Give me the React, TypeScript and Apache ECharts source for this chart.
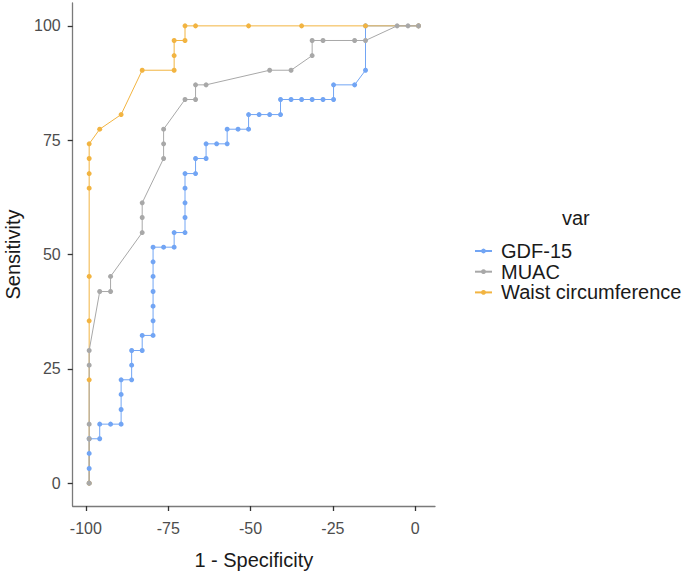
import React, { useEffect, useRef } from "react";
import * as echarts from "echarts";

const xTicks = [-100, -75, -50, -25, 0];
const yTicks = [0, 25, 50, 75, 100];

const gdfX = [-99, -99, -99, -99, -95.8, -95.8, -92.5, -89.3, -89.3, -89.3, -89.3, -86.1, -86.1, -86.1, -82.9, -82.9, -79.6, -79.6, -79.6, -79.6, -79.6, -79.6, -79.6, -76.4, -73.2, -73.2, -69.9, -69.9, -69.9, -69.9, -69.9, -66.7, -66.7, -63.5, -63.5, -60.3, -57.1, -57.1, -53.8, -50.6, -50.6, -47.4, -44.2, -40.9, -40.9, -37.7, -34.5, -31.3, -28.0, -24.8, -24.8, -18.4, -15.1, -15.1, 1.0];
const gdfY = [0, 3.2, 6.5, 9.7, 9.7, 12.9, 12.9, 12.9, 16.1, 19.4, 22.6, 22.6, 25.8, 29.0, 29.0, 32.3, 32.3, 35.5, 38.7, 41.9, 45.2, 48.4, 51.6, 51.6, 51.6, 54.8, 54.8, 58.1, 61.3, 64.5, 67.7, 67.7, 71.0, 71.0, 74.2, 74.2, 74.2, 77.4, 77.4, 77.4, 80.6, 80.6, 80.6, 80.6, 83.9, 83.9, 83.9, 83.9, 83.9, 83.9, 87.1, 87.1, 90.3, 100, 100];

const muacX = [-99, -99, -99, -99, -99, -95.8, -92.5, -92.5, -82.9, -82.9, -82.9, -76.4, -76.4, -76.4, -69.9, -66.7, -66.7, -63.5, -44.2, -37.7, -31.3, -31.3, -28.0, -18.4, -15.1, -5.5, -2.2, 1.0];
const muacY = [0, 9.7, 12.9, 25.8, 29.0, 41.9, 41.9, 45.2, 54.8, 58.1, 61.3, 71.0, 74.2, 77.4, 83.9, 83.9, 87.1, 87.1, 90.3, 90.3, 93.5, 96.8, 96.8, 96.8, 96.8, 100, 100, 100];

const waistX = [-99, -99, -99, -99, -99, -99, -99, -99, -95.8, -89.3, -82.9, -73.2, -73.2, -73.2, -69.9, -69.9, -66.7, -50.6, -34.5, -15.1, 1.0];
const waistY = [0, 22.6, 35.5, 45.2, 64.5, 67.7, 71.0, 74.2, 77.4, 80.6, 90.3, 90.3, 93.5, 96.8, 96.8, 100, 100, 100, 100, 100, 100];

const seriesNames = ["GDF-15", "MUAC", "Waist circumference"];
const colors = { gdf: "#72a5f4", muac: "#a8a8a8", waist: "#f2b441" };

const zip = (xs: number[], ys: number[]) => xs.map((x, i) => [x, ys[i]]);

export default function App() {
  const ref = useRef<HTMLDivElement>(null);
  useEffect(() => {
    if (!ref.current) return;
    const chart = echarts.init(ref.current, null, { renderer: "svg" });
    const font = "'Liberation Sans', Arial, sans-serif";
    const mk = (name: string, xs: number[], ys: number[], color: string) => ({
      name,
      type: "line",
      data: zip(xs, ys),
      symbol: "circle",
      symbolSize: 5,
      showAllSymbol: true,
      lineStyle: { width: 1, color },
      itemStyle: { color },
      emphasis: { disabled: true },
    });
    chart.setOption({
      animation: false,
      textStyle: { fontFamily: font },
      title: {
        text: "var",
        left: 557,
        top: 203,
        textStyle: { fontFamily: font, fontSize: 20, fontWeight: "normal", color: "#1a1a1a" },
      },
      legend: {
        orient: "vertical",
        left: 469,
        top: 236,
        itemWidth: 17,
        itemHeight: 6,
        itemGap: 0.7,
        data: seriesNames,
        textStyle: { fontFamily: font, fontSize: 20, color: "#1a1a1a", lineHeight: 20, padding: [0, 0, 0, 4] },
      },
      grid: { left: 72.7, right: 250, top: 3, bottom: 68, containLabel: false, outerBoundsMode: "none" },
      xAxis: {
        type: "value",
        min: -104,
        max: 6,
        name: "1 - Specificity",
        nameLocation: "middle",
        nameGap: 44,
        nameTextStyle: { fontFamily: font, fontSize: 20, color: "#1a1a1a" },
        splitLine: { show: false },
        axisLine: { show: true, onZero: false, lineStyle: { color: "#7a7a7a", width: 1.3 } },
        axisTick: { show: true, length: 5, customValues: xTicks, lineStyle: { color: "#333", width: 1.3 } },
        axisLabel: { customValues: xTicks, fontSize: 16, color: "#4d4d4d", margin: 14, fontFamily: font },
      },
      yAxis: {
        type: "value",
        min: -5,
        max: 105,
        name: "Sensitivity",
        nameLocation: "middle",
        nameGap: 50,
        nameTextStyle: { fontFamily: font, fontSize: 20, color: "#1a1a1a" },
        splitLine: { show: false },
        axisLine: { show: true, onZero: false, lineStyle: { color: "#7a7a7a", width: 1.3 } },
        axisTick: { show: true, length: 5, customValues: yTicks, lineStyle: { color: "#333", width: 1.3 } },
        axisLabel: { customValues: yTicks, fontSize: 16, color: "#4d4d4d", margin: 12, fontFamily: font },
      },
      series: [
        mk(seriesNames[0], gdfX, gdfY, colors.gdf),
        mk(seriesNames[2], waistX, waistY, colors.waist),
        mk(seriesNames[1], muacX, muacY, colors.muac),
      ],
    });
    return () => chart.dispose();
  }, []);
  return (
    <div
      ref={ref}
      style={{ position: "fixed", left: 0, top: 0, width: 685, height: 574, background: "#fff" }}
    />
  );
}
